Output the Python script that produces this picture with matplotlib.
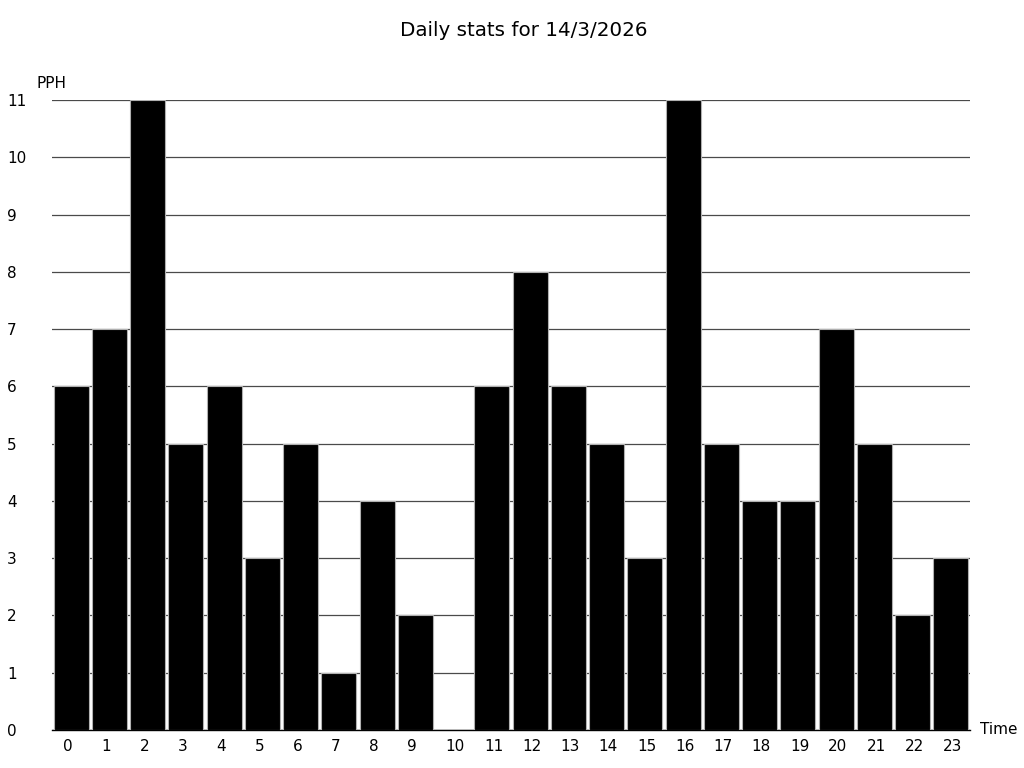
import matplotlib
matplotlib.use('Agg')
import matplotlib.pyplot as plt
from matplotlib.transforms import ScaledTranslation

hours = list(range(24))
pph = [6, 7, 11, 5, 6, 3, 5, 1, 4, 2, 0, 6, 8, 6, 5, 3, 11, 5, 4, 4, 7, 5, 2, 3]
y_ticks = list(range(12))

fig = plt.figure(figsize=(10.24, 7.68), dpi=100)
ax = fig.add_axes([52 / 1024, 38 / 768, 918 / 1024, 630 / 768])

ax.bar(hours, pph, width=0.92, color='black', edgecolor='#b0b0b0', linewidth=0.8, zorder=3)

ax.set_xlim(-0.5, 23.5)
ax.set_ylim(0, 11)
ax.set_xticks(hours)
ax.set_yticks(y_ticks)
ax.tick_params(axis='x', length=0, labelsize=11, pad=6.5)
ax.tick_params(axis='y', length=0, labelsize=11, pad=32.4)
for lbl in ax.get_yticklabels():
    lbl.set_horizontalalignment('left')
# x labels sit a bit left of bar centres, as in the original
shift = ScaledTranslation(-8 / 100, 0, fig.dpi_scale_trans)
for lbl in ax.get_xticklabels():
    lbl.set_horizontalalignment('left')
    lbl.set_transform(lbl.get_transform() + shift)

ax.yaxis.grid(True, color='#4a4a4a', linewidth=0.9, zorder=1)
ax.set_axisbelow(True)

for s in ['top', 'right', 'left']:
    ax.spines[s].set_visible(False)
ax.spines['bottom'].set_color('black')
ax.spines['bottom'].set_linewidth(1.0)

fig.text(37 / 1024, 1 - 84 / 768, 'PPH', fontsize=11, ha='left', va='center')
fig.text(980 / 1024, 1 - 730 / 768, 'Time', fontsize=11, ha='left', va='center')
fig.text(524 / 1024, 1 - 30 / 768, 'Daily stats for 14/3/2026', fontsize=14.3, ha='center', va='center')

fig.savefig('out.png', dpi=100, facecolor='white')
